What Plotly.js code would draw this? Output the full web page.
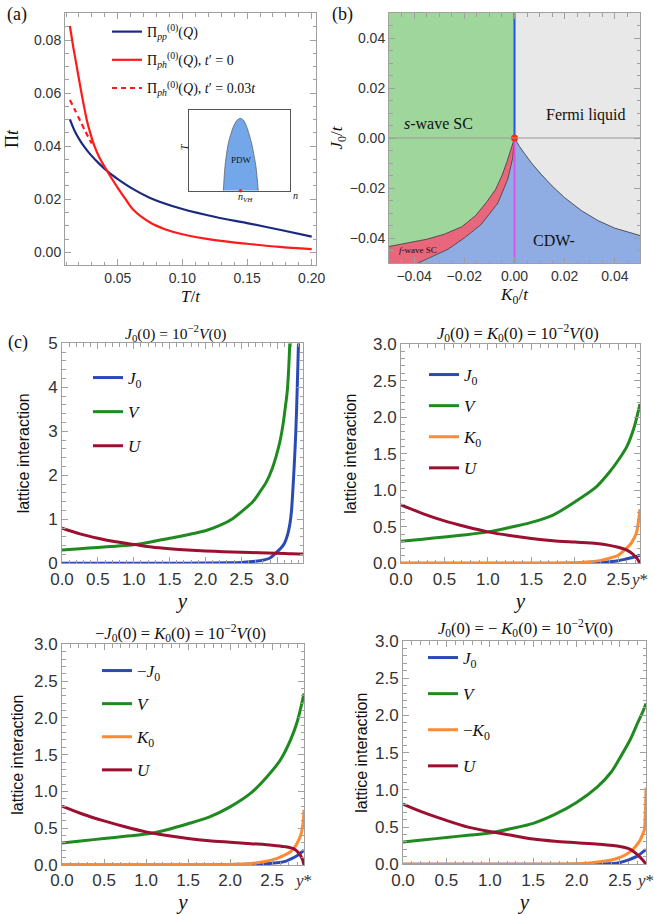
<!DOCTYPE html>
<html><head><meta charset="utf-8">
<script src="https://cdn.plot.ly/plotly-3.0.1.min.js"></script>
<style>html,body{margin:0;padding:0;background:#fff}</style>
</head><body><div id="chart" style="width:654px;height:914px"></div>
<script>
// ---------- Panel (a): polarization bubbles vs T/t ----------
const aT_pp   = [0.013,0.0157,0.0183,0.021,0.0235,0.0286,0.035,0.0428,0.05,0.062,0.075,0.1,0.1265,0.15,0.178,0.2];
const aPi_pp  = [0.0501,0.0468,0.0442,0.0420,0.0402,0.0370,0.0337,0.0302,0.0276,0.0238,0.0205,0.0163,0.0132,0.0110,0.0082,0.0059];
const aT_ph   = [0.013,0.0157,0.0183,0.021,0.0235,0.026,0.0286,0.032,0.036,0.0428,0.05,0.056,0.062,0.075,0.087,0.1,0.125,0.15,0.175,0.2];
const aPi_ph  = [0.0853,0.0770,0.0700,0.0625,0.0560,0.0500,0.0452,0.0400,0.0355,0.0298,0.0243,0.0200,0.0160,0.0112,0.0086,0.0068,0.0046,0.0032,0.0020,0.0012];
const aT_ph3  = [0.013,0.017,0.021,0.025,0.0299];
const aPi_ph3 = [0.0574,0.0535,0.0495,0.0455,0.0410];
// inset dome (n, T) in normalized units
const insetN  = [0.34,0.356,0.389,0.439,0.472,0.505,0.538,0.571,0.62,0.663,0.686];
const insetT  = [0,0.298,0.587,0.793,0.868,0.897,0.876,0.793,0.587,0.298,0];
const insetVH = [0.51];

// ---------- Panel (b): phase diagram boundaries (K0/t, J0/t) ----------
const bRange = [-0.05, 0.05];
const bUpperK = [0,-0.0015,-0.003,-0.005,-0.0075,-0.011,-0.0155,-0.021,-0.028,-0.035,-0.0425,-0.05];
const bUpperJ = [0,-0.005,-0.0095,-0.015,-0.0205,-0.0255,-0.031,-0.0355,-0.0385,-0.0405,-0.042,-0.0434];
const bLowerK = [0,-0.0007,-0.0027,-0.0066,-0.0133,-0.02,-0.0265,-0.0332,-0.0384];
const bLowerJ = [0,-0.008,-0.0165,-0.026,-0.0346,-0.040,-0.0445,-0.0475,-0.05];
const bRightK = [0,0.002,0.004,0.007,0.0106,0.015,0.0199,0.0266,0.0332,0.0398,0.05];
const bRightJ = [0,-0.0034,-0.0062,-0.0103,-0.0145,-0.0192,-0.0238,-0.0290,-0.0330,-0.0360,-0.0390];
const bVertK  = [0,0];
const bVertJup = [0,0.05];
const bVertJdn = [0,-0.05];
const bPointK = [0], bPointJ = [0];

// ---------- Panel (c1): J0(0)=1e-2 V(0) ----------
const c1_yJ = [0,0.5,1,1.5,2,2.3,2.5,2.7,2.8,2.9,2.98,3.05,3.1,3.15,3.18,3.2,3.22,3.24,3.26,3.28,3.297];
const c1_J  = [0,0,0,0.002,0.006,0.012,0.02,0.045,0.07,0.12,0.23,0.34,0.45,0.68,0.92,1.2,1.7,2.3,3.0,4.0,5.0];
const c1_yV = [0,0.25,0.5,0.75,1.0,1.25,1.5,1.75,2.0,2.2,2.385,2.5,2.66,2.75,2.85,2.93,2.99,3.04,3.08,3.11,3.14,3.16,3.176];
const c1_V  = [0.30,0.33,0.36,0.39,0.42,0.49,0.57,0.65,0.74,0.86,1.02,1.17,1.40,1.6,1.85,2.15,2.46,2.78,3.14,3.5,3.9,4.4,5.0];
const c1_yU = [0,0.25,0.5,0.75,1,1.25,1.5,1.75,2,2.25,2.5,2.75,3,3.2,3.36];
const c1_U  = [0.80,0.67,0.57,0.49,0.43,0.37,0.33,0.30,0.28,0.265,0.25,0.24,0.23,0.215,0.21];

// ---------- Panel (c2): J0(0)=K0(0)=1e-2 V(0) ----------
const c2_yJ = [0,1,1.5,2.0,2.2,2.3,2.4,2.5,2.58,2.65,2.7,2.75];
const c2_J  = [0,0,0,0,0.005,0.01,0.02,0.035,0.055,0.075,0.09,0.11];
const c2_yV = [0,0.25,0.5,0.75,1.0,1.25,1.5,1.75,2.0,2.25,2.4,2.5,2.6,2.68,2.75];
const c2_V  = [0.30,0.33,0.36,0.39,0.43,0.49,0.56,0.66,0.84,1.05,1.25,1.41,1.6,1.85,2.18];
const c2_yK = [0,0.5,1,1.5,1.9,2.1,2.3,2.4,2.5,2.58,2.64,2.68,2.71,2.73,2.75];
const c2_K  = [0,0,0,0,0.005,0.015,0.04,0.07,0.11,0.19,0.26,0.34,0.42,0.55,0.74];
const c2_yU = [0,0.25,0.5,0.75,1.0,1.25,1.5,1.75,2.0,2.25,2.4,2.5,2.58,2.64,2.69,2.72,2.75];
const c2_U  = [0.80,0.68,0.58,0.50,0.43,0.38,0.34,0.31,0.29,0.27,0.245,0.22,0.19,0.15,0.10,0.06,0];

// ---------- Panel (c3): -J0(0)=K0(0)=1e-2 V(0) ----------
const c3_yJ = [0,1,1.5,2.0,2.2,2.4,2.56,2.66,2.72,2.8,2.88];
const c3_J  = [0,0,0,0.002,0.006,0.015,0.03,0.05,0.08,0.13,0.2];
const c3_yV = [0,0.25,0.5,0.75,1.0,1.25,1.5,1.75,2.0,2.25,2.44,2.6,2.72,2.8,2.88];
const c3_V  = [0.30,0.33,0.36,0.39,0.42,0.48,0.56,0.65,0.79,0.98,1.2,1.43,1.70,1.95,2.33];
const c3_yK = [0,0.5,1,1.5,1.9,2.1,2.24,2.4,2.56,2.66,2.72,2.76,2.8,2.84,2.87,2.88];
const c3_K  = [0,0,0,0,0.005,0.012,0.02,0.045,0.09,0.14,0.18,0.23,0.3,0.4,0.58,0.75];
const c3_yU = [0,0.25,0.5,0.75,1.0,1.25,1.5,1.75,2.0,2.25,2.5,2.65,2.76,2.82,2.86,2.88];
const c3_U  = [0.80,0.69,0.60,0.52,0.45,0.40,0.36,0.33,0.31,0.29,0.27,0.25,0.22,0.16,0.08,0];

// ---------- Panel (c4): J0(0)=-K0(0)=1e-2 V(0) ----------
const c4_yJ = [0,1,1.5,2.0,2.2,2.41,2.5,2.6,2.7,2.8];
const c4_J  = [0,0,0,0,0.005,0.01,0.025,0.06,0.11,0.2];
const c4_yV = [0,0.25,0.5,0.75,1.0,1.25,1.5,1.75,2.0,2.24,2.4,2.51,2.62,2.7,2.76,2.8];
const c4_V  = [0.30,0.33,0.36,0.39,0.42,0.48,0.55,0.67,0.83,1.04,1.24,1.45,1.68,1.89,2.04,2.16];
const c4_yK = [0,0.5,1,1.5,1.9,2.06,2.2,2.37,2.48,2.56,2.63,2.68,2.73,2.76,2.78,2.79,2.8];
const c4_K  = [0,0,0,0,0.004,0.01,0.025,0.05,0.085,0.125,0.18,0.24,0.32,0.4,0.46,0.6,1.03];
const c4_yU = [0,0.25,0.5,0.75,1.0,1.25,1.5,1.75,2.0,2.25,2.5,2.6,2.66,2.72,2.76,2.8];
const c4_U  = [0.81,0.69,0.59,0.50,0.44,0.39,0.34,0.31,0.29,0.27,0.24,0.21,0.17,0.11,0.06,0];

const yTickVals = [0,0.5,1,1.5,2,2.5];
const yTickText = ['0.0','0.5','1.0','1.5','2.0','2.5'];

// ---------- styling ----------
const W=654,H=914;
const dx=(a,b)=>[a/W,b/W];
const dy=(t,b)=>[1-b/H,1-t/H];
const SERIF='"Liberation Serif","DejaVu Serif",serif';
const SANS='"Liberation Sans",Arial,sans-serif';
const FRAME='#a0a0a0';
const C_BLUE='#2a4bb7', C_GREEN='#1f8a1f', C_RED='#9b1030', C_ORANGE='#ff8a30';

function ax(domain, range, anchor, dtick, minorD, fs, extra){
  return Object.assign({
    domain, range, anchor, autorange:false, showgrid:false, zeroline:false,
    showline:true, linecolor:FRAME, linewidth:1, mirror:'ticks',
    ticks:'inside', ticklen:6, tickwidth:1, tickcolor:FRAME, tickangle:0,
    dtick, tick0:0,
    minor:{ticks:'inside', ticklen:3.5, tickwidth:1, tickcolor:FRAME, dtick:minorD, tick0:0, showgrid:false},
    tickfont:{family:SANS,size:fs,color:'#333'},
    fixedrange:true
  }, extra||{});
}
function ystarAx(domain, ystar, anchor){
  return ax(domain,[0,ystar],anchor,0.5,0.1,17,{
    tickmode:'array', ticklabeloverflow:'allow',
    tickvals: yTickVals.concat([ystar]),
    ticktext: yTickText.concat(['<span style="font-family:Liberation Serif"><i>y</i>*</span>']),
    title:{text:'<i>y</i>', font:{family:SERIF,size:21,color:'#111'}, standoff:4}
  });
}
function line(x,y,xa,ya,color,width,name,legend,group,dash,shape){
  return {type:'scatter',mode:'lines',x,y,xaxis:xa,yaxis:ya,
    line:{color,width,dash:dash||'solid',shape:shape||'spline',smoothing:0.8},name:name||'',
    showlegend:!!name,legend:legend,legendgroup:group,hoverinfo:'skip'};
}

const traces=[];
// (a)
traces.push(line(aT_pp,aPi_pp,'x','y','#1b2a80',2.2,'Π<sub><i>pp</i></sub><sup>(0)</sup>(<i>Q</i>)','legend','a1'));
traces.push(line(aT_ph,aPi_ph,'x','y','#ff1a1a',2.2,'Π<sub><i>ph</i></sub><sup>(0)</sup>(<i>Q</i>), <i>t</i>′ = 0','legend','a2'));
traces.push(line(aT_ph3,aPi_ph3,'x','y','#ff1a1a',2.2,'Π<sub><i>ph</i></sub><sup>(0)</sup>(<i>Q</i>), <i>t</i>′ = 0.03<i>t</i>','legend','a3','5px,4px'));
// inset
traces.push({type:'scatter',mode:'lines',x:insetN,y:insetT,xaxis:'x2',yaxis:'y2',fill:'toself',
  fillcolor:'#74a7ea',line:{color:'#555',width:0.7,shape:'spline',smoothing:0.7},showlegend:false,hoverinfo:'skip'});
traces.push({type:'scatter',mode:'markers',x:insetVH,y:[0],xaxis:'x2',yaxis:'y2',cliponaxis:false,
  marker:{color:'#ff2020',size:3.5},showlegend:false,hoverinfo:'skip'});
// (b) regions
const rev=a=>a.slice().reverse();
const [bMin,bMax]=bRange;
function poly(x,y,color){return {type:'scatter',mode:'lines',x,y,xaxis:'x3',yaxis:'y3',fill:'toself',
  fillcolor:color,line:{width:0,color:color},showlegend:false,hoverinfo:'skip'};}
traces.push(poly([bMin,0].concat(bUpperK),[bMax,bMax].concat(bUpperJ),'#9fd69b'));
traces.push(poly([0,bMax].concat(rev(bRightK)),[bMax,bMax].concat(rev(bRightJ)),'#e8e8e8'));
traces.push(poly(bUpperK.concat([bMin]).concat(rev(bLowerK)),bUpperJ.concat([bMin]).concat(rev(bLowerJ)),'#e8677d'));
traces.push(poly(bLowerK.concat([bMax]).concat(rev(bRightK)),bLowerJ.concat([bMin]).concat(rev(bRightJ)),'#8fade3'));
traces.push(line(bUpperK,bUpperJ,'x3','y3','#333',0.8,'',undefined,undefined,'solid','linear'));
traces.push(line(bLowerK,bLowerJ,'x3','y3','#333',0.8,'',undefined,undefined,'solid','linear'));
traces.push(line(bRightK,bRightJ,'x3','y3','#333',0.8,'',undefined,undefined,'solid','linear'));
traces.push(line(bVertK,bVertJup,'x3','y3','#2255ee',2,'',undefined,undefined,'solid','linear'));
traces.push(line(bVertK,bVertJdn,'x3','y3','#e050e8',2,'',undefined,undefined,'solid','linear'));
traces.push({type:'scatter',mode:'markers',x:bPointK,y:bPointJ,xaxis:'x3',yaxis:'y3',cliponaxis:false,
  marker:{color:'#ff2a10',size:7},showlegend:false,hoverinfo:'skip'});
// (c1)
traces.push(line(c1_yJ,c1_J,'x4','y4',C_BLUE,3,'<i>J</i><sub>0</sub>','legend2','c1J'));
traces.push(line(c1_yV,c1_V,'x4','y4',C_GREEN,3,'<i>V</i>','legend2','c1V'));
traces.push(line(c1_yU,c1_U,'x4','y4',C_RED,3,'<i>U</i>','legend2','c1U'));
// (c2)
traces.push(line(c2_yJ,c2_J,'x5','y5',C_BLUE,3,'<i>J</i><sub>0</sub>','legend3','c2J'));
traces.push(line(c2_yV,c2_V,'x5','y5',C_GREEN,3,'<i>V</i>','legend3','c2V'));
traces.push(line(c2_yK,c2_K,'x5','y5',C_ORANGE,3,'<i>K</i><sub>0</sub>','legend3','c2K'));
traces.push(line(c2_yU,c2_U,'x5','y5',C_RED,3,'<i>U</i>','legend3','c2U'));
// (c3)
traces.push(line(c3_yJ,c3_J,'x6','y6',C_BLUE,3,'−<i>J</i><sub>0</sub>','legend4','c3J'));
traces.push(line(c3_yV,c3_V,'x6','y6',C_GREEN,3,'<i>V</i>','legend4','c3V'));
traces.push(line(c3_yK,c3_K,'x6','y6',C_ORANGE,3,'<i>K</i><sub>0</sub>','legend4','c3K'));
traces.push(line(c3_yU,c3_U,'x6','y6',C_RED,3,'<i>U</i>','legend4','c3U'));
// (c4)
traces.push(line(c4_yJ,c4_J,'x7','y7',C_BLUE,3,'<i>J</i><sub>0</sub>','legend5','c4J'));
traces.push(line(c4_yV,c4_V,'x7','y7',C_GREEN,3,'<i>V</i>','legend5','c4V'));
traces.push(line(c4_yK,c4_K,'x7','y7',C_ORANGE,3,'−<i>K</i><sub>0</sub>','legend5','c4K'));
traces.push(line(c4_yU,c4_U,'x7','y7',C_RED,3,'<i>U</i>','legend5','c4U'));

function leg(xpx,ypx,fs,gap){
  return {x:xpx/W,y:1-ypx/H,xanchor:'left',yanchor:'top',bgcolor:'rgba(0,0,0,0)',borderwidth:0,
    font:{family:SERIF,size:fs,color:'#111'},tracegroupgap:gap,traceorder:'grouped'};
}
function pa(text,xpx,ypx,font,extra){
  return Object.assign({text,x:xpx/W,y:1-ypx/H,xref:'paper',yref:'paper',xanchor:'center',yanchor:'middle',
    showarrow:false,font},extra||{});
}
function da(text,x,y,xr,yr,font,extra){
  return Object.assign({text,x,y,xref:xr,yref:yr,xanchor:'center',yanchor:'middle',showarrow:false,font},extra||{});
}
const tf1={family:SERIF,size:15.5,color:'#111'};
const tf2={family:SERIF,size:16.5,color:'#111'};
const lab={family:SERIF,size:18,color:'#111'};
const layout={
  width:W,height:H,margin:{l:0,r:0,t:0,b:0},paper_bgcolor:'#fff',plot_bgcolor:'#fff',
  showlegend:true,
  xaxis: ax(dx(65,316),[0.0092,0.2033],'y',0.05,0.01,14,{tickformat:'.2f',
    title:{text:'<i>T</i>/<i>t</i>',font:{family:SERIF,size:17,color:'#111'},standoff:5}}),
  yaxis: ax(dy(13,265),[-0.0048,0.0902],'x',0.02,0.005,14,{tickformat:'.2f',
    title:{text:'Π<i>t</i>',font:{family:SERIF,size:18,color:'#111'},standoff:10}}),
  xaxis2:{domain:dx(189,290),range:[0,1],anchor:'y2',showline:true,mirror:true,linecolor:'#555',linewidth:1,
    showticklabels:false,ticks:'',showgrid:false,zeroline:false,fixedrange:true},
  yaxis2:{domain:dy(110,190.7),range:[0,1],anchor:'x2',showline:true,mirror:true,linecolor:'#555',linewidth:1,
    showticklabels:false,ticks:'',showgrid:false,zeroline:false,fixedrange:true},
  xaxis3: ax(dx(389,640),bRange,'y3',0.02,0.005,14,{tickformat:'.2f',layer:'above traces',
    title:{text:'<i>K</i><sub>0</sub>/<i>t</i>',font:{family:SERIF,size:17,color:'#111'},standoff:5}}),
  yaxis3: ax(dy(13,263),bRange,'x3',0.02,0.005,14,{tickformat:'.2f',layer:'above traces',
    title:{text:'<i>J</i><sub>0</sub>/<i>t</i>',font:{family:SERIF,size:17,color:'#111'},standoff:2}}),
  xaxis4: ax(dx(62,303),[0,3.36],'y4',0.5,0.1,17,{tickformat:'.1f',
    title:{text:'<i>y</i>',font:{family:SERIF,size:21,color:'#111'},standoff:4}}),
  yaxis4: ax(dy(343.3,563.3),[0,5],'x4',1,0.2,17,{tickformat:'d',
    title:{text:'lattice interaction',font:{family:SANS,size:16,color:'#111'},standoff:14}}),
  xaxis5: ystarAx(dx(401,640),c2_yU[c2_yU.length-1],'y5'),
  yaxis5: ax(dy(344,563.3),[0,3],'x5',0.5,0.1,17,{tickformat:'.1f',
    title:{text:'lattice interaction',font:{family:SANS,size:16,color:'#111'},standoff:12}}),
  xaxis6: ystarAx(dx(62,304),c3_yU[c3_yU.length-1],'y6'),
  yaxis6: ax(dy(644.3,865),[0,3],'x6',0.5,0.1,17,{tickformat:'.1f',
    title:{text:'lattice interaction',font:{family:SANS,size:16,color:'#111'},standoff:6}}),
  xaxis7: ystarAx(dx(403,646),c4_yU[c4_yU.length-1],'y7'),
  yaxis7: ax(dy(641,864.3),[0,3],'x7',0.5,0.1,17,{tickformat:'.1f',
    title:{text:'lattice interaction',font:{family:SANS,size:16,color:'#111'},standoff:3}}),
  legend: leg(107,16,14,7),
  legend2: leg(88,360,17,9),
  legend3: leg(424,357,17,6),
  legend4: leg(97,653,17,8),
  legend5: leg(423,640,17,11),
  shapes:[{type:'line',xref:'x3 domain',x0:0,x1:1,yref:'y3',y0:0,y1:0,line:{color:'#9a9a9a',width:1},layer:'above'}],
  annotations:[
    pa('(a)',17,15,lab), pa('(b)',342,15,lab), pa('(c)',18,342,lab),
    pa('<i>J</i><sub>0</sub>(0) = 10<sup>−2</sup><i>V</i>(0)',175,333,tf1),
    pa('<i>J</i><sub>0</sub>(0) = <i>K</i><sub>0</sub>(0) = 10<sup>−2</sup><i>V</i>(0)',518,333,tf2),
    pa('−<i>J</i><sub>0</sub>(0) = <i>K</i><sub>0</sub>(0) = 10<sup>−2</sup><i>V</i>(0)',180,633,tf2),
    pa('<i>J</i><sub>0</sub>(0) = − <i>K</i><sub>0</sub>(0) = 10<sup>−2</sup><i>V</i>(0)',525,628,tf2),
    // inset labels
    da('PDW',0.52,0.38,'x2 domain','y2 domain',{family:SERIF,size:9,color:'#111'}),
    da('<i>T</i>',-0.05,0.55,'x2 domain','y2 domain',{family:SERIF,size:10,color:'#111'},{textangle:-90}),
    da('<i>n</i><sub><i>VH</i></sub>',0.56,-0.09,'x2 domain','y2 domain',{family:SERIF,size:10,color:'#111'}),
    da('<i>n</i>',1.05,-0.06,'x2 domain','y2 domain',{family:SERIF,size:10,color:'#111'}),
    // (b) labels
    da('Fermi liquid',0.0285,0.0093,'x3','y3',{family:SERIF,size:16,color:'#111'}),
    da('<i>s</i>-wave SC',-0.0303,0.0057,'x3','y3',{family:SERIF,size:16,color:'#111'}),
    da('CDW-',0.0158,-0.041,'x3','y3',{family:SERIF,size:16,color:'#111'}),
    da('<i>f</i>-wave SC',-0.0385,-0.0447,'x3','y3',{family:SERIF,size:9,color:'#111'})
  ]
};
Plotly.newPlot('chart',traces,layout,{staticPlot:true,displayModeBar:false});
</script></body></html>
